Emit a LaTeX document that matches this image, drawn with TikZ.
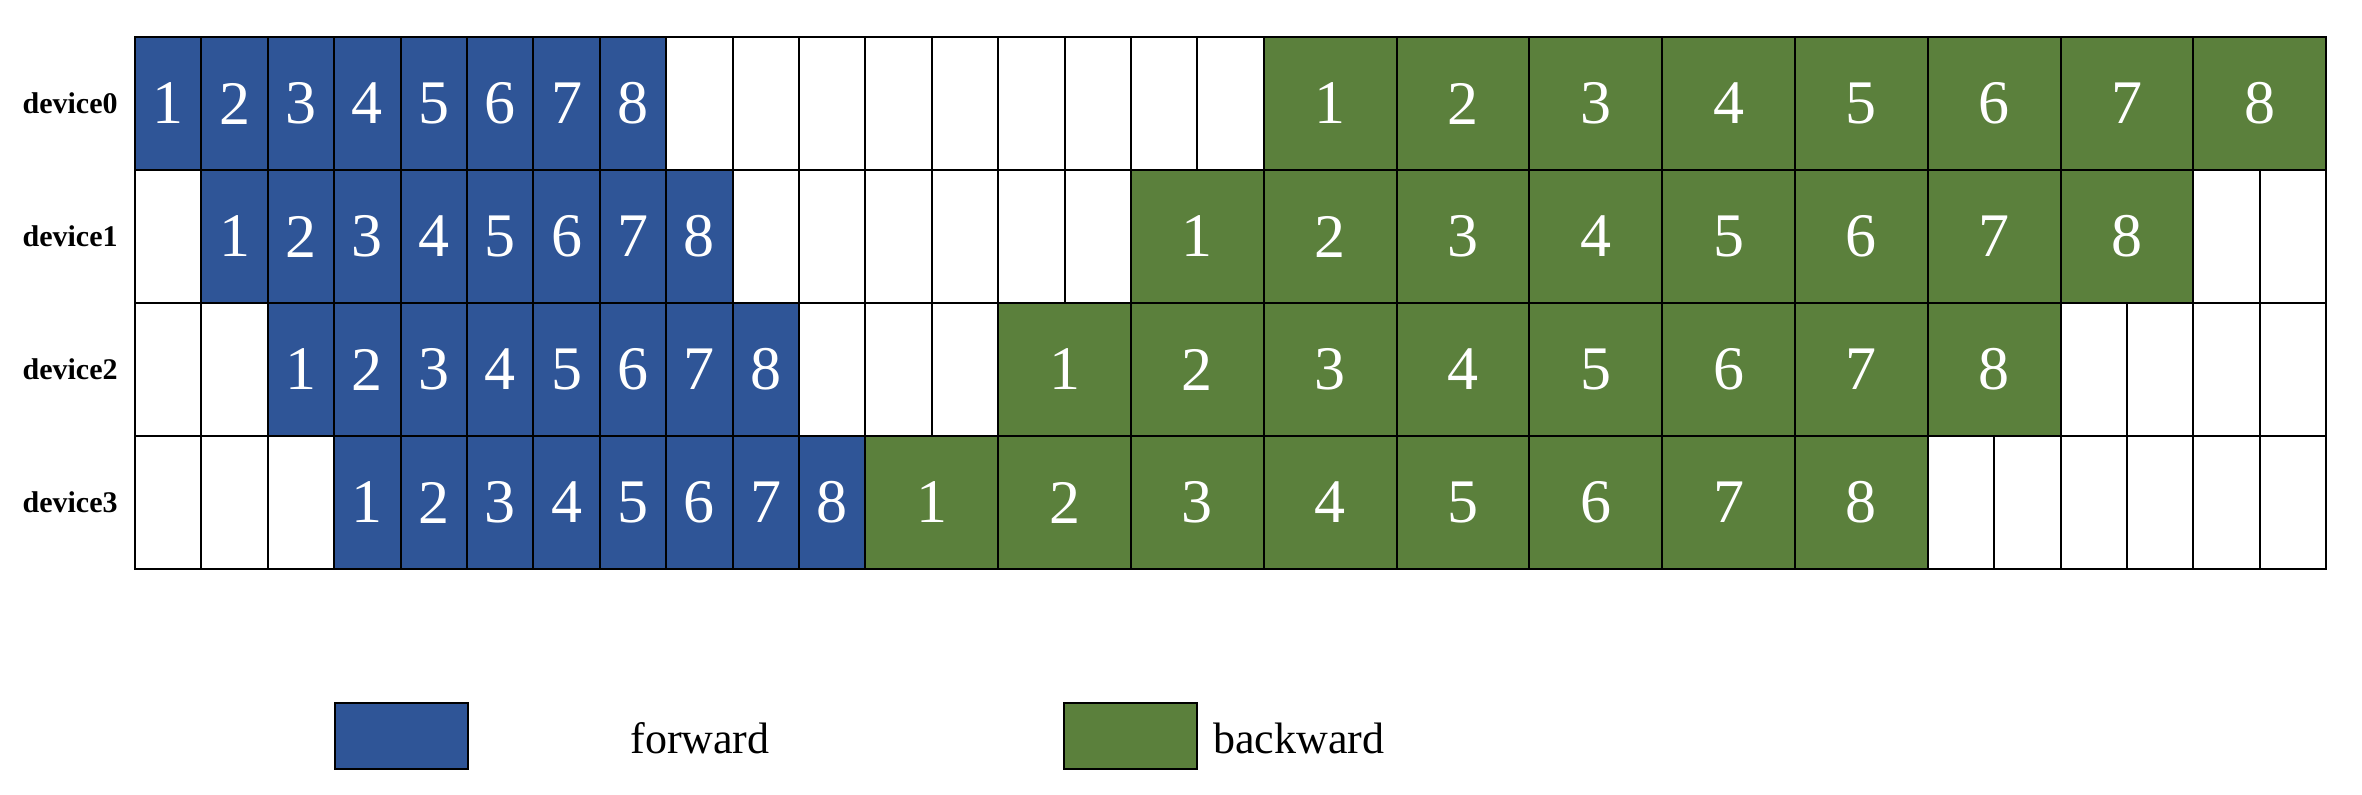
\documentclass[tikz,border=0pt]{standalone}
\usepackage{fontspec}
\setmainfont{Liberation Serif}
\definecolor{fwd}{HTML}{2F5597}
\definecolor{bwd}{HTML}{5B803C}
\begin{document}
\begin{tikzpicture}[x=0.5pt,y=-0.5pt,
 cell/.style={draw=black, line width=1pt, inner sep=0pt, outer sep=0pt, anchor=north west, minimum height=66.5pt},
 fcell/.style={cell, fill=fwd, text=white, minimum width=33.2pt, font=\fontsize{31}{31}\selectfont},
 bcell/.style={cell, fill=bwd, text=white, minimum width=66.4pt, font=\fontsize{31}{31}\selectfont},
 ecell/.style={cell, fill=white, minimum width=33.2pt},
 dev/.style={font=\bfseries\fontsize{15}{15}\selectfont, anchor=east, inner sep=0pt},
 legbox/.style={draw=black, line width=1pt, minimum width=66.5pt, minimum height=33pt, inner sep=0pt, anchor=north west},
 legtext/.style={font=\fontsize{22}{22}\selectfont, inner sep=0pt}
 ]
\useasboundingbox (0,0) rectangle (2362,794);
\foreach \r in {0,...,3}{
  \pgfmathtruncatemacro\bs{17-2*\r}
  \node[dev] (d\r) at (118, {37+133*\r+66.5}) {device\r};
  \foreach \c in {0,...,32}{
    \pgfmathtruncatemacro\isempty{or(\c<\r, or(and(\c>\r+7,\c<\bs), \c>\bs+15))}
    \ifnum\isempty=1
      \node[ecell] (e\r-\c) at ({135+66.4*\c}, {37+133*\r}) {};
    \fi
  }
  \foreach \k in {1,...,8}{
    \node[fcell] (f\r-\k) at ({135+66.4*(\r+\k-1)}, {37+133*\r}) {\k};
    \node[bcell] (b\r-\k) at ({135+66.4*(\bs+2*(\k-1))}, {37+133*\r}) {\k};
  }
}
\node[legbox, fill=fwd] (lf) at (334,702) {};
\node[legtext] (lft) at (700,738) {forward};
\node[legbox, fill=bwd] (lb) at (1063,702) {};
\node[legtext, anchor=west] (lbt) at (1213,738) {backward};
\end{tikzpicture}
\end{document}
